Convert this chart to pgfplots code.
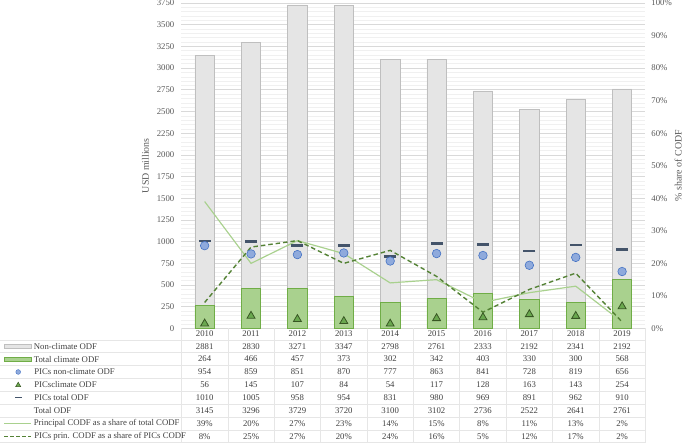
\documentclass[border=0pt]{standalone}
\usepackage{pgfplots}
\pgfplotsset{compat=1.18}
\usepackage{pgfplotstable}
\usepackage{fontspec}
\setmainfont{Liberation Serif}
\definecolor{txt}{HTML}{595959}
\definecolor{tabtxt}{HTML}{404040}
\definecolor{gridmaj}{HTML}{D9D9D9}
\definecolor{gridmin}{HTML}{F0F0F0}
\definecolor{ncfill}{HTML}{E5E5E5}
\definecolor{ncdraw}{HTML}{BFBFBF}
\definecolor{cfill}{HTML}{A9D18E}
\definecolor{cdraw}{HTML}{70AD47}
\definecolor{cirfill}{HTML}{8FAADC}
\definecolor{cirdraw}{HTML}{4472C4}
\definecolor{trifill}{HTML}{6AA84F}
\definecolor{tridraw}{HTML}{385723}
\definecolor{dashc}{HTML}{44546A}
\definecolor{linea}{HTML}{A9D18E}
\definecolor{lineb}{HTML}{548235}
\definecolor{tabline}{HTML}{E6E6E6}
\newcommand{\tabfont}{\fontsize{8.8}{10}\selectfont}
\pgfplotstableread{
i year nc clim picnc picc pictot tot sh1 sh2
0 2010 2881 264 954 56 1010 3145 39 8
1 2011 2830 466 859 145 1005 3296 20 25
2 2012 3271 457 851 107 958 3729 27 27
3 2013 3347 373 870 84 954 3720 23 20
4 2014 2798 302 777 54 831 3100 14 24
5 2015 2761 342 863 117 980 3102 15 16
6 2016 2333 403 841 128 969 2736 8 5
7 2017 2192 330 728 163 891 2522 11 12
8 2018 2341 300 819 143 962 2641 13 17
9 2019 2192 568 656 254 910 2761 2 2
}\data
\begin{document}
\begin{tikzpicture}
% ---- bars
\begin{axis}[name=main, scale only axis, width=466bp, height=327bp,
  xmin=-0.5, xmax=9.5, ymin=0, ymax=3750,
  ybar stacked, bar width=19.5bp,
  xtick=\empty,
  ytick distance=250, minor y tick num=4,
  ymajorgrids, yminorgrids,
  major grid style={gridmaj, line width=0.6bp},
  minor grid style={gridmin, line width=0.5bp},
  axis line style={draw=none},
  tick style={draw=none},
  /pgf/number format/1000 sep={},
  /pgf/number format/assume math mode=true,
  yticklabel style={font=\fontsize{8.8}{10}\selectfont, text=txt, inner sep=0pt, xshift=-7bp},
  ylabel={USD millions},
  ylabel style={at={(axis description cs:-0.0773,0.5)}, anchor=center, font=\fontsize{10}{12}\selectfont, text=txt},
  clip=false]
\addplot[fill=cfill, draw=cdraw, line width=0.7bp] table[x=i, y=clim]{\data};
\addplot[fill=ncfill, draw=ncdraw, line width=0.7bp] table[x=i, y=nc]{\data};
\end{axis}
% ---- share lines (secondary axis)
\begin{axis}[at={(main.south west)}, anchor=south west, scale only axis, width=466bp, height=327bp,
  xmin=-0.5, xmax=9.5, ymin=0, ymax=100,
  hide x axis, axis y line*=right,
  y axis line style={draw=none}, tick style={draw=none},
  ytick distance=10,
  yticklabel={\pgfmathprintnumber{\tick}\%},
  /pgf/number format/assume math mode=true,
  yticklabel style={font=\fontsize{8.8}{10}\selectfont, text=txt, inner sep=0pt, xshift=6bp, anchor=west},
  ylabel={\% share of CODF},
  ylabel style={at={(axis description cs:1.0708,0.5)}, anchor=center, rotate=0, font=\fontsize{10}{12}\selectfont, text=txt},
  clip=false]
\addplot[linea, line width=1.2bp, mark=none] table[x=i, y=sh1]{\data};
\addplot[lineb, line width=1.4bp, dash pattern=on 4.5bp off 3bp, mark=none] table[x=i, y=sh2]{\data};
\end{axis}
% ---- PICs markers
\begin{axis}[at={(main.south west)}, anchor=south west, scale only axis, width=466bp, height=327bp,
  xmin=-0.5, xmax=9.5, ymin=0, ymax=3750, hide axis, clip=false]
\addplot[only marks, mark=-, mark size=6bp, mark options={draw=dashc, line width=2.6bp}] table[x=i, y=pictot]{\data};
\addplot[only marks, mark=*, mark size=4.3bp, mark options={fill=cirfill, draw=cirdraw, line width=0.6bp}] table[x=i, y=picnc]{\data};
\addplot[only marks, mark=triangle*, mark size=4.6bp, mark options={fill=trifill, draw=tridraw, line width=0.8bp}] table[x=i, y=picc]{\data};
\end{axis}
% ---- data table
\begin{axis}[at={(main.south west)}, anchor=north west, scale only axis, width=466bp, height=115bp,
  xmin=182, xmax=648, ymin=0, ymax=115, hide axis, clip=false,
  every node near coord/.append style={anchor=center, font=\tabfont, text=tabtxt, inner sep=0pt},
  nodes near coords, point meta=explicit symbolic]
% rules
\pgfplotsinvokeforeach{0,...,8}{
  \draw[tabline, line width=0.6bp] (axis cs:0,{103.5-12.9*#1}) -- (axis cs:648,{103.5-12.9*#1});
}
\pgfplotsinvokeforeach{0,...,10}{
  \draw[tabline, line width=0.6bp] (axis cs:{182+46.6*#1},115) -- (axis cs:{182+46.6*#1},0);
}
% values
\addplot[draw=none, mark=none] table[x expr=205.3+46.6*\thisrow{i}, y expr=110, meta=year]{\data};
\addplot[draw=none, mark=none] table[x expr=205.3+46.6*\thisrow{i}, y expr=97.1, meta=nc]{\data};
\addplot[draw=none, mark=none] table[x expr=205.3+46.6*\thisrow{i}, y expr=84.2, meta=clim]{\data};
\addplot[draw=none, mark=none] table[x expr=205.3+46.6*\thisrow{i}, y expr=71.3, meta=picnc]{\data};
\addplot[draw=none, mark=none] table[x expr=205.3+46.6*\thisrow{i}, y expr=58.4, meta=picc]{\data};
\addplot[draw=none, mark=none] table[x expr=205.3+46.6*\thisrow{i}, y expr=45.5, meta=pictot]{\data};
\addplot[draw=none, mark=none] table[x expr=205.3+46.6*\thisrow{i}, y expr=32.6, meta=tot]{\data};
\addplot[draw=none, mark=none, nodes near coords={\pgfplotspointmeta\%}] table[x expr=205.3+46.6*\thisrow{i}, y expr=19.7, meta=sh1]{\data};
\addplot[draw=none, mark=none, nodes near coords={\pgfplotspointmeta\%}] table[x expr=205.3+46.6*\thisrow{i}, y expr=6.8, meta=sh2]{\data};
% legend keys
\addplot[fill=ncfill, draw=ncdraw, line width=0.6bp, nodes near coords={}] coordinates {(4,95.1) (31,95.1) (31,99.1) (4,99.1)} -- cycle;
\addplot[fill=cfill, draw=cdraw, line width=0.6bp, nodes near coords={}] coordinates {(4,82.2) (31,82.2) (31,86.2) (4,86.2)} -- cycle;
\addplot[only marks, mark=*, mark size=2.4bp, mark options={fill=cirfill, draw=cirdraw, line width=0.4bp}, nodes near coords={}] coordinates {(18,71.3)};
\addplot[only marks, mark=triangle*, mark size=3bp, mark options={fill=trifill, draw=tridraw, line width=0.5bp}, nodes near coords={}] coordinates {(18,58.0)};
\addplot[only marks, mark=-, mark size=3.5bp, mark options={draw=dashc, line width=1.6bp}, nodes near coords={}] coordinates {(18,45.5)};
\addplot[linea, line width=1bp, mark=none, nodes near coords={}] coordinates {(4,19.7) (31,19.7)};
\addplot[lineb, line width=1.2bp, dash pattern=on 3.5bp off 2.5bp, mark=none, nodes near coords={}] coordinates {(4,6.8) (31,6.8)};
% legend labels
\node[anchor=west, font=\tabfont, text=tabtxt, inner sep=0pt] at (axis cs:33.5,97.1) {Non-climate ODF};
\node[anchor=west, font=\tabfont, text=tabtxt, inner sep=0pt] at (axis cs:33.5,84.2) {Total climate ODF};
\node[anchor=west, font=\tabfont, text=tabtxt, inner sep=0pt] at (axis cs:34,71.3) {PICs non-climate ODF};
\node[anchor=west, font=\tabfont, text=tabtxt, inner sep=0pt] at (axis cs:34,58.4) {PICsclimate ODF};
\node[anchor=west, font=\tabfont, text=tabtxt, inner sep=0pt] at (axis cs:34,45.5) {PICs total ODF};
\node[anchor=west, font=\tabfont, text=tabtxt, inner sep=0pt] at (axis cs:33.5,32.6) {Total ODF};
\node[anchor=west, font=\tabfont, text=tabtxt, inner sep=0pt] at (axis cs:33.5,19.7) {Principal CODF as a share of total CODF};
\node[anchor=west, font=\tabfont, text=tabtxt, inner sep=0pt] at (axis cs:34,6.8) {PICs prin. CODF as a share of PICs CODF};
\end{axis}
\path[use as bounding box] (main.south west) ++(-182bp,-115bp) rectangle ++(685bp,445bp);
\end{tikzpicture}
\end{document}
